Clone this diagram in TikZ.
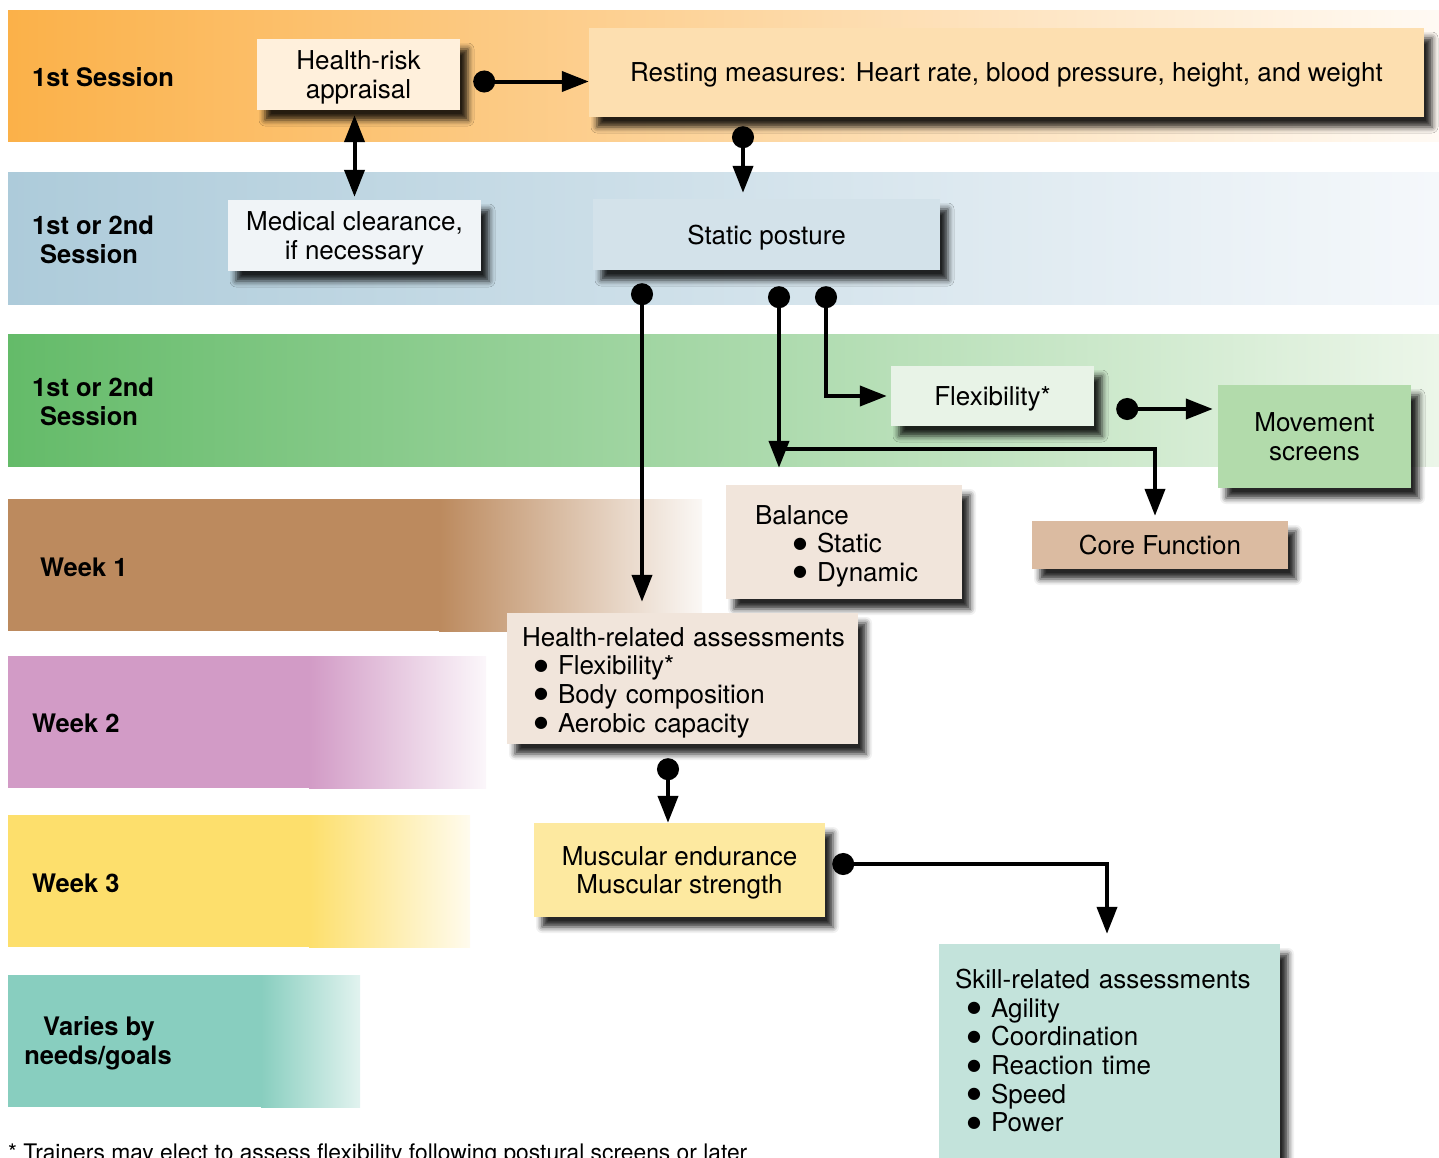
\documentclass[tikz,border=0pt]{standalone}
\usepackage{fontspec}
\setmainfont{TeX Gyre Heros}
\newfontfamily\bulletfont{DejaVu Sans}
\usetikzlibrary{positioning}
\usetikzlibrary{arrows.meta}
\usetikzlibrary{shadows.blur}
\definecolor{orangeband}{RGB}{251,177,73}
\definecolor{orangemid}{RGB}{252,210,145}
\definecolor{orangeend}{RGB}{255,250,244}
\definecolor{blueband}{RGB}{173,203,218}
\definecolor{bluemid}{RGB}{208,225,234}
\definecolor{blueend}{RGB}{245,248,251}
\definecolor{greenband}{RGB}{100,187,105}
\definecolor{greenmid}{RGB}{150,208,146}
\definecolor{greenend}{RGB}{236,246,233}
\definecolor{brownband}{RGB}{188,138,94}
\definecolor{pinkband}{RGB}{210,155,198}
\definecolor{yellowband}{RGB}{253,223,108}
\definecolor{tealband}{RGB}{136,206,191}
\definecolor{hrafill}{RGB}{255,240,220}
\definecolor{restfill}{RGB}{253,223,176}
\definecolor{medfill}{RGB}{240,244,247}
\definecolor{statfill}{RGB}{211,226,234}
\definecolor{flexfill}{RGB}{232,243,231}
\definecolor{movefill}{RGB}{178,219,171}
\definecolor{balfill}{RGB}{241,229,219}
\definecolor{corefill}{RGB}{219,187,161}
\definecolor{muscfill}{RGB}{253,233,160}
\definecolor{skillfill}{RGB}{195,227,219}
\newcommand{\bigbullet}{\raisebox{4.5pt}{\bulletfont\fontsize{16}{16}\selectfont ●}}
\newcommand{\listitem}[2][12pt]{\hspace*{#1}\makebox[24pt][l]{\bigbullet}#2}
\tikzset{x=1pt, y=-1pt, % One unit is one pixel of the layout, y runs down
ball/.tip={Circle[length=22pt,width=22pt]}, % Round tail of a connector
head/.tip={Triangle[length=27pt,width=20pt]}, % Head of a connector
taskbox/.style=
    { % Sets the properties for each assessment box
        rectangle,
        inner sep=0pt,
        align=center,
        font=\fontsize{26}{28.6}\selectfont,
        blur shadow={shadow xshift=8pt, shadow yshift=-10pt,
            shadow blur radius=6pt, shadow opacity=85}
    },
    centerbox/.style={taskbox, text depth=0pt}, % Centred text, no descender room
    bandlabel/.style={ % Bold text at the left of each band
        anchor=west,
        inner sep=0pt,
        align=left,
        font=\fontsize{25.5}{29}\selectfont\bfseries
    },
    every edge/.style={ % Sets the properties for each connector
        draw,
        line width=4pt,
        ball-head
    },
    link/.style={draw, line width=4pt, ball-head}
}
\begin{document}
\begin{tikzpicture}
\useasboundingbox (0,0) rectangle (1439,1157);
% bands
\shade[left color=orangeband, middle color=orangemid, right color=orangeend] (8,10) rectangle (1439,141);
\shade[left color=blueband, middle color=bluemid, right color=blueend] (8,172) rectangle (1439,304);
\shade[left color=greenband, middle color=greenmid, right color=greenend] (8,334) rectangle (1439,466);
\fill[brownband] (8,499) rectangle (440,631);
\shade[left color=brownband, right color=brownband!6] (439,499) rectangle (702,631);
\fill[pinkband] (8,656) rectangle (310,788);
\shade[left color=pinkband, right color=pinkband!8] (309,656) rectangle (486,788);
\fill[yellowband] (8,815) rectangle (310,947);
\shade[left color=yellowband, right color=yellowband!12] (309,815) rectangle (470,947);
\fill[tealband] (8,975) rectangle (262,1107);
\shade[left color=tealband, right color=tealband!25] (261,975) rectangle (360,1107);

\node [bandlabel] (s1)  at (32,77)  {1st Session};
\node [bandlabel] (s2)  at (32,240) {1st or 2nd\\\hspace*{8pt}Session};
\node [bandlabel] (s3)  at (32,402) {1st or 2nd\\\hspace*{8pt}Session};
\node [bandlabel] (w1)  at (40,567) {Week 1};
\node [bandlabel] (w2)  at (32,723) {Week 2};
\node [bandlabel] (w3)  at (32,883) {Week 3};
\node [bandlabel, anchor=center, align=center] (var) at (98,1043) {\hspace*{2pt}Varies by\\needs/goals};

% boxes
\node [centerbox, fill=hrafill, minimum width=203pt, minimum height=71pt]   (hra)  at (358.5,74.5)  {Health-risk\\appraisal};
\node [centerbox, fill=restfill, minimum width=835pt, minimum height=89pt]  (rest) at (1006.5,72.5) {Resting measures: Heart rate, blood pressure, height, and weight};
\node [centerbox, fill=medfill, minimum width=253pt, minimum height=71pt]   (med)  at (354.5,235.5) {Medical clearance,\\if necessary};
\node [centerbox, fill=statfill, minimum width=347pt, minimum height=71pt]  (stat) at (766.5,234.5) {Static posture};
\node [centerbox, fill=flexfill, minimum width=203pt, minimum height=60pt]  (flex) at (992.5,396)   {Flexibility*};
\node [centerbox, fill=movefill, minimum width=193pt, minimum height=103pt] (move) at (1314.5,436.5) {Movement\\screens};
\node [taskbox, fill=balfill, align=left, text width=178pt, inner xsep=29pt, minimum height=114pt] (bal) at (844,542)
    {\rule{0pt}{27pt}Balance\\\listitem[38pt]{Static}\\\listitem[38pt]{Dynamic}};
\node [centerbox, fill=corefill, minimum width=256pt, minimum height=48pt]  (core) at (1160,545)    {Core Function};
\node [taskbox, fill=balfill, align=left, text width=321pt, inner xsep=15pt, minimum height=131pt] (hrel) at (682.5,678.5)
    {\rule{0pt}{27pt}\mbox{Health-related assessments}\\\listitem{Flexibility*}\\\listitem{Body composition}\\\listitem{Aerobic capacity}};
\node [centerbox, fill=muscfill, minimum width=291pt, minimum height=94pt]  (musc) at (679.5,870)   {Muscular endurance\\Muscular strength};
\node [taskbox, fill=skillfill, align=left, text width=309pt, inner xsep=16pt, minimum height=221pt] (skill) at (1109.5,1054.5)
    {\mbox{Skill-related assessments}\\\listitem{Agility}\\\listitem{Coordination}\\\listitem{Reaction time}\\\listitem{Speed}\\\listitem{Power}\rule[-8pt]{0pt}{8pt}};

\node [anchor=base west, inner sep=0pt, font=\fontsize{22.8}{24}\selectfont] (note) at (8,1160)
    {* Trainers may elect to assess flexibility following postural screens or later};

% connectors
\coordinate (fork) at (779,449);
\draw
    ([yshift=-7pt]hra.east) edge[shorten <=13pt] ([yshift=-7pt]hra.east -| rest.west)

    ([xshift=-4pt]hra.south) edge[head-head, shorten <=5pt, shorten >=3pt] ([xshift=-4pt]hra.south |- med.north)

    ([xshift=-23.5pt]stat.north |- rest.south) edge[shorten <=9pt, shorten >=6pt] ([xshift=-23.5pt]stat.north)

    ([xshift=-40.5pt]hrel.north |- stat.south) edge[shorten <=13pt, shorten >=11pt] ([xshift=-40.5pt]hrel.north)

    ([xshift=-65pt]bal.north |- stat.south) edge[shorten <=16pt, shorten >=17pt] ([xshift=-65pt]bal.north)

    ([yshift=-13pt]flex.east) edge[shorten <=22pt, shorten >=5pt] ([yshift=-13pt]flex.east -| move.west)

    ([xshift=-11.5pt]musc.north |- hrel.south) edge[shorten <=14pt] ([xshift=-11.5pt]musc.north)
    ;
\draw[link, -head, shorten >=5pt] (fork) -| ([xshift=-5pt]core.north);
\draw[link, shorten <=16pt, shorten >=4pt] ([xshift=59.5pt]stat.south) |- (flex.west);
\draw[link, shorten <=7pt, shorten >=10pt] ([yshift=6pt]musc.east) -| ([xshift=-2.5pt]skill.north);
\end{tikzpicture}
\end{document}
